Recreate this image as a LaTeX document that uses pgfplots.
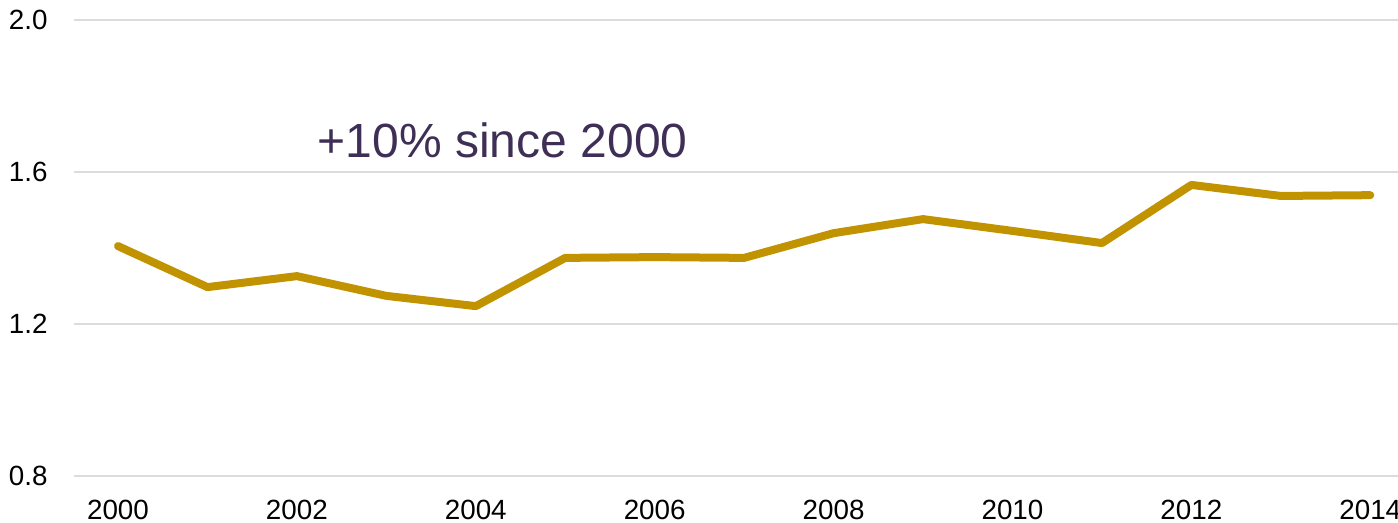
\documentclass[border=0pt]{standalone}
\usepackage{pgfplots}
\pgfplotsset{compat=1.18}
\usepackage{fontspec}
\setmainfont{Liberation Sans}
\definecolor{gold}{HTML}{C19300}
\definecolor{annot}{HTML}{3F2F57}
\definecolor{gridc}{HTML}{DCDCDC}
\begin{document}
\begin{tikzpicture}
\useasboundingbox (-37bp,-23.5bp) rectangle (662bp,238bp);
\begin{axis}[
  scale only axis,
  width=662bp, height=228bp,
  xmin=1999.508, xmax=2014.31,
  ymin=0.8, ymax=2.0,
  xtick={2000,2002,...,2014},
  ytick={0.8,1.2,1.6,2.0},
  yticklabels={0.8,1.2,1.6,2.0},
  xticklabels={2000,2002,2004,2006,2008,2010,2012,2014},
  ymajorgrids,
  grid style={gridc, line width=0.75bp},
  axis line style={draw=none},
  major tick length=0pt,
  tick style={draw=none},
  tick label style={font=\fontsize{13.9bp}{16bp}\selectfont, text=black},
  xticklabel style={inner sep=0pt, anchor=north, yshift=-12bp},
  yticklabel style={inner sep=0pt, anchor=east, xshift=-13bp},
  clip=false,
]
\addplot[gold, line width=4bp, line join=round, line cap=round] coordinates {
(2000,1.405) (2001,1.297) (2002,1.326) (2003,1.274) (2004,1.247)
(2005,1.374) (2006,1.376) (2007,1.374) (2008,1.439) (2009,1.476)
(2010,1.445) (2011,1.413) (2012,1.566) (2013,1.537) (2014,1.539)
};
\node[anchor=base west, inner sep=0pt, text=annot, font=\fontsize{24bp}{28bp}\selectfont] at (axis cs:2002.23,1.637) {+10\% since 2000};
\end{axis}
\end{tikzpicture}
\end{document}
